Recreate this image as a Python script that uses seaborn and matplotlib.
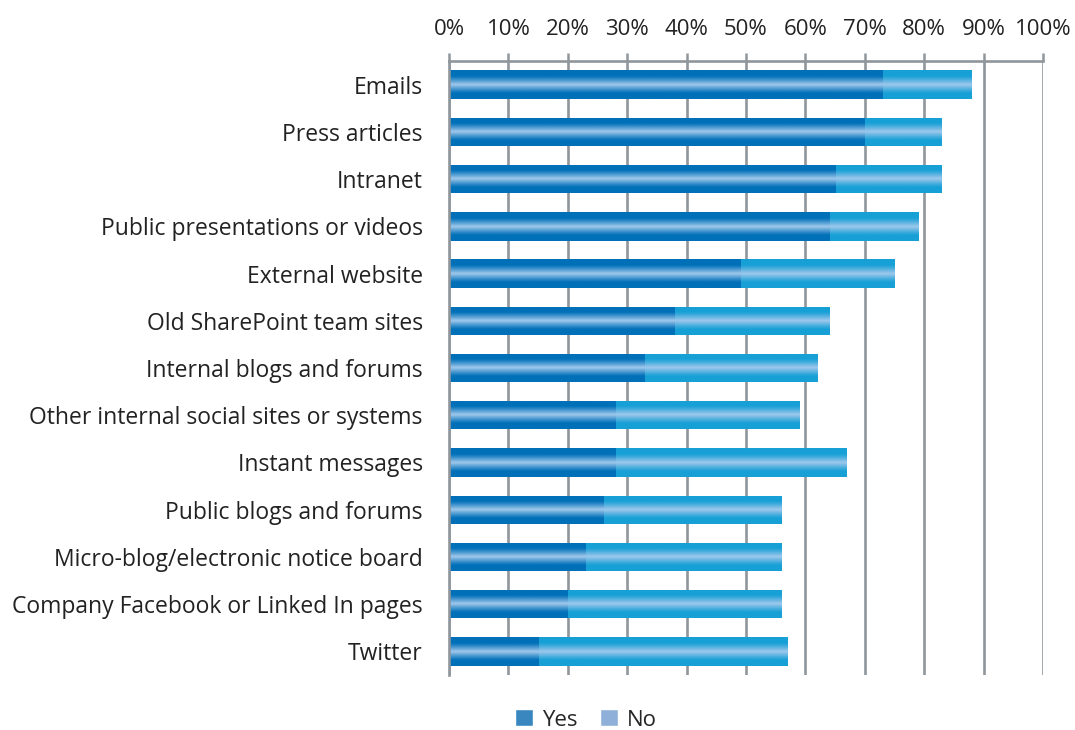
import numpy as np
import pandas as pd
import matplotlib
matplotlib.use("Agg")
import matplotlib.pyplot as plt
import seaborn as sns
from matplotlib.colors import to_rgb
from matplotlib.patches import Patch

# Dados
categorias = ["Emails", "Press articles", "Intranet", "Public presentations or videos",
              "External website", "Old SharePoint team sites", "Internal blogs and forums",
              "Other internal social sites or systems", "Instant messages",
              "Public blogs and forums", "Micro-blog/electronic notice board",
              "Company Facebook or Linked In pages", "Twitter"]
sim = [73, 70, 65, 64, 49, 38, 33, 28, 28, 26, 23, 20, 15]
nao = [15, 13, 18, 15, 26, 26, 29, 31, 39, 30, 33, 36, 42]
ticks = [0, 10, 20, 30, 40, 50, 60, 70, 80, 90, 100]

df = pd.DataFrame({"cat": categorias, "Yes": sim, "No": nao})
df["Total"] = df["Yes"] + df["No"]

sns.set_style("white")
plt.rcParams["font.family"] = ["Open Sans", "DejaVu Sans"]

cor_sim = "#0070b8"
cor_nao = "#17a0d6"
cinza = "#8f969c"

fig = plt.figure(figsize=(10.75, 7.3), dpi=100)
ax = fig.add_axes([0.4177, 0.0753, 0.5525, 0.8411])

sns.barplot(data=df, y="cat", x="Total", color=cor_nao, width=0.6, ax=ax,
            saturation=1, edgecolor="none", linewidth=0, orient="h")
sns.barplot(data=df, y="cat", x="Yes", color=cor_sim, width=0.6, ax=ax,
            saturation=1, edgecolor="none", linewidth=0, orient="h")

# Gradiente (faixa clara no meio da barra)
def gradiente(base):
    b = np.array(to_rgb(base))
    claro = np.array(to_rgb("#a0c8ec"))
    t = np.linspace(0, 1, 80)
    w = np.clip(1 - np.abs(t - 0.5) / 0.3, 0, 1) ** 1.1
    return (b[None, :] * (1 - w[:, None]) + claro[None, :] * w[:, None])[:, None, :]

n = len(categorias)
for i, p in enumerate(list(ax.patches)):
    base = cor_nao if i < n else cor_sim
    x0, y0 = p.get_x(), p.get_y()
    w, h = p.get_width(), p.get_height()
    if w <= 0:
        continue
    im = ax.imshow(gradiente(base), extent=[x0, x0 + w, y0 + h, y0], aspect="auto",
                   zorder=p.get_zorder() + 0.1 + (0.5 if base == cor_sim else 0),
                   interpolation="bilinear")
    im.set_clip_path(p)

ax.set_xlim(0, 100)
ax.set_ylim(n - 0.5, -0.5)
ax.set_xticks(ticks)
ax.set_xticklabels([f"{t}%" for t in ticks], fontsize=16, color="#222222")
ax.xaxis.tick_top()
ax.tick_params(axis="x", length=6, width=1.8, color=cinza, pad=9, top=True, bottom=False)
ax.tick_params(axis="y", length=0, pad=19, labelsize=16.5, labelcolor="#222222")
ax.set_xlabel("")
ax.set_ylabel("")
ax.grid(axis="x", color=cinza, linewidth=1.9, zorder=0)
ax.set_axisbelow(True)
for s in ["right", "bottom"]:
    ax.spines[s].set_visible(False)
for s in ["top", "left"]:
    ax.spines[s].set_color(cinza)
    ax.spines[s].set_linewidth(1.9)

handles = [Patch(facecolor="#3a87c0", label="Yes"), Patch(facecolor="#8fb0d8", label="No")]
fig.legend(handles=handles, loc="center", bbox_to_anchor=(0.545, 0.0137), ncol=2,
           frameon=False, fontsize=16, handlelength=0.8, handleheight=0.8,
           handletextpad=0.4, columnspacing=1.0)

fig.savefig("out.png", dpi=100)
